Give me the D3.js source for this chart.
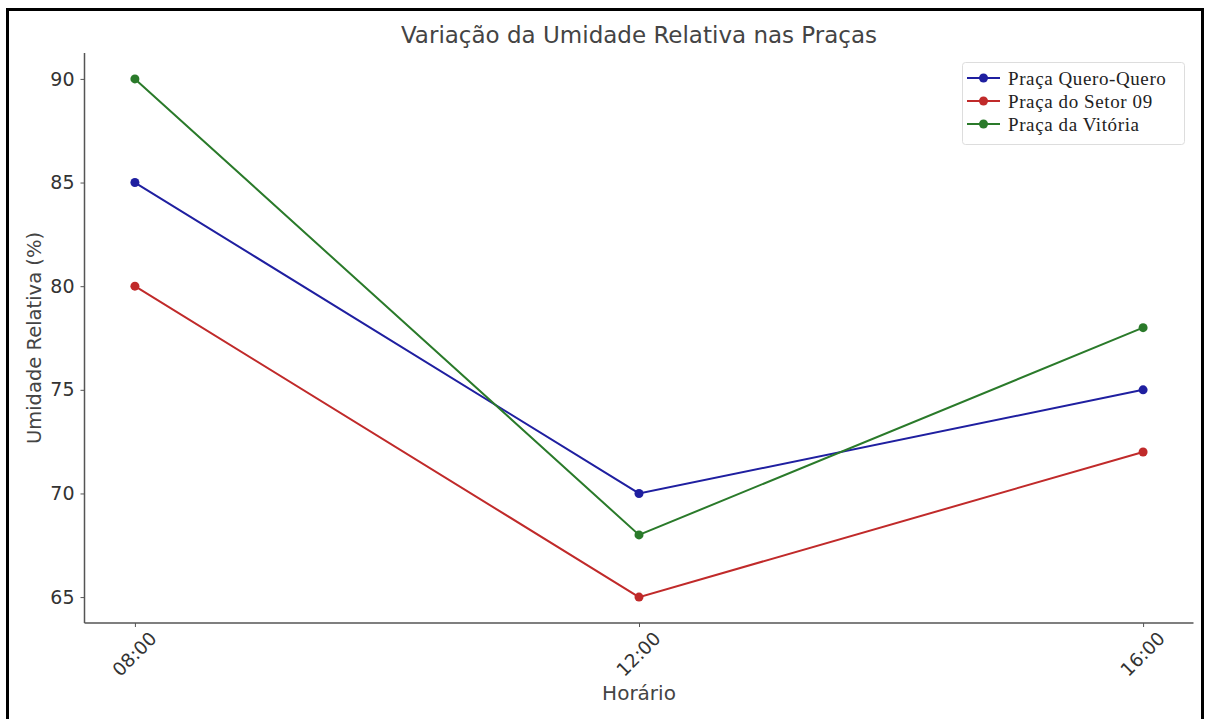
<!DOCTYPE html>
<html><head><meta charset="utf-8">
<script src="https://cdn.jsdelivr.net/npm/d3@7"></script>
<style>body{margin:0;background:#fff}svg{display:block}</style>
</head><body>
<svg id="c" width="1208" height="719"></svg>
<script>
const hours = ["08:00","12:00","16:00"];
const hourNum = [8,12,16];
const seriesNames = ["Praça Quero-Quero","Praça do Setor 09","Praça da Vitória"];
const queroQuero = [85,70,75];
const setor09 = [80,65,72];
const vitoria = [90,68,78];
const yTicks = [65,70,75,80,85,90];
const colors = ["#1f1fa0","#c02a2a","#2a7a2a"];

const svg = d3.select("#c");
svg.append("rect").attr("x",7.5).attr("y",9.5).attr("width",1195).attr("height",720)
  .attr("fill","none").attr("stroke","#000").attr("stroke-width",3);

const x = d3.scaleLinear().domain([7.6,16.4]).range([84.5,1193.5]);
const y = d3.scaleLinear().domain([63.75,91.25]).range([623,53]);

const g = svg.append("g");
const yAxis = g.append("g").attr("transform","translate(84.5,0)")
  .call(d3.axisLeft(y).tickValues(yTicks).tickSize(4).tickPadding(6).tickFormat(d3.format("d")));
yAxis.select(".domain").attr("stroke","#555").attr("stroke-width",1.5).attr("d","M0,623V53");
yAxis.selectAll(".tick line").attr("stroke","#555");
yAxis.selectAll("text").attr("font-family","'DejaVu Sans'").attr("font-size",19).attr("fill","#333");

const xAxis = g.append("g").attr("transform","translate(0,623)")
  .call(d3.axisBottom(x).tickValues(hourNum).tickSize(4).tickFormat((d,i)=>hours[i]));
xAxis.select(".domain").attr("stroke","#555").attr("stroke-width",1.5).attr("d","M84.5,0H1193.5");
xAxis.selectAll(".tick line").attr("stroke","#555");
xAxis.selectAll("text").attr("font-family","'DejaVu Sans'").attr("font-size",18.5).attr("fill","#333")
  .attr("text-anchor","middle").attr("dy",null).attr("y",0)
  .attr("transform","translate(-1,31) rotate(-45)").attr("dominant-baseline","central");

const data = [queroQuero, setor09, vitoria];
const line = d3.line().x((d,i)=>x(hourNum[i])).y(d=>y(d));
data.forEach((s,k)=>{
  g.append("path").attr("d",line(s)).attr("fill","none").attr("stroke",colors[k]).attr("stroke-width",2);
  g.selectAll(null).data(s).enter().append("circle")
    .attr("cx",(d,i)=>x(hourNum[i])).attr("cy",d=>y(d)).attr("r",4.5).attr("fill",colors[k]);
});

svg.append("text").attr("x",639).attr("y",43).attr("text-anchor","middle")
  .attr("font-family","'DejaVu Sans'").attr("font-size",23).attr("fill","#444")
  .text("Variação da Umidade Relativa nas Praças");
svg.append("text").attr("x",639).attr("y",700).attr("text-anchor","middle")
  .attr("font-family","'DejaVu Sans'").attr("font-size",20).attr("fill","#444").text("Horário");
svg.append("text").attr("transform","translate(41,338) rotate(-90)").attr("text-anchor","middle")
  .attr("font-family","'DejaVu Sans'").attr("font-size",19.5).attr("fill","#444").text("Umidade Relativa (%)");

const lg = svg.append("g");
lg.append("rect").attr("x",962.5).attr("y",62.5).attr("width",222).attr("height",82).attr("rx",3)
  .attr("fill","#fff").attr("stroke","#ddd");
seriesNames.forEach((n,k)=>{
  const yy = 78 + k*23;
  lg.append("line").attr("x1",967).attr("x2",1000).attr("y1",yy).attr("y2",yy).attr("stroke",colors[k]).attr("stroke-width",2);
  lg.append("circle").attr("cx",983.5).attr("cy",yy).attr("r",4.5).attr("fill",colors[k]);
  lg.append("text").attr("x",1008).attr("y",yy).attr("dominant-baseline","central")
    .attr("font-family","'Liberation Serif'").attr("font-size",19).attr("letter-spacing",0.6)
    .attr("fill","#222").text(n);
});
</script>
</body></html>
